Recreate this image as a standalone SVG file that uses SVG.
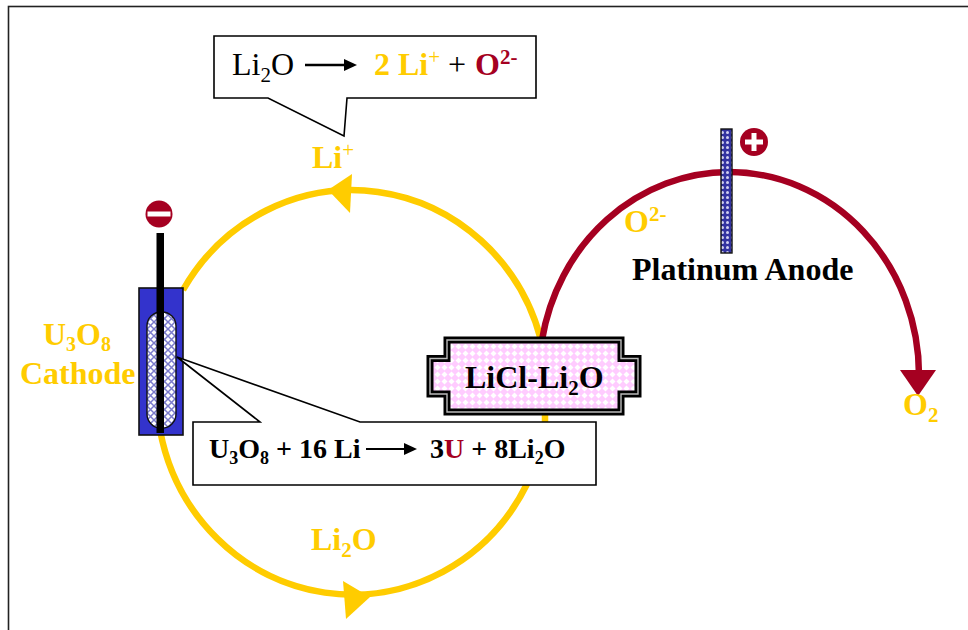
<svg xmlns="http://www.w3.org/2000/svg" width="968" height="630" viewBox="0 0 968 630">
<style>
text{font-family:"Liberation Serif","Times New Roman",serif;font-weight:bold}
.y{fill:#ffcc00}.r{fill:#a50021}.k{fill:#000}
.n{font-weight:normal}
.call{fill:#fff;stroke:#000;stroke-width:1.6;stroke-linejoin:miter}
.yl{fill:none;stroke:#ffcc00;stroke-width:6.5}
.rl{fill:none;stroke:#a50021;stroke-width:6.5}
</style>
<defs>
<pattern id="pk" width="7" height="7" patternUnits="userSpaceOnUse"><rect width="7" height="7" fill="#ffccff"/><path d="M3.500 .5l3 3-3 3-3-3z" fill="#fff"/></pattern>
<pattern id="ch" width="7" height="7" patternUnits="userSpaceOnUse"><rect width="7" height="7" fill="#fff"/><path d="M0 0L7 7M7 0L0 7" stroke="#7a7acc" stroke-width="1.5"/></pattern>
<pattern id="an" width="5" height="5" patternUnits="userSpaceOnUse"><rect width="5" height="5" fill="#3333a0"/><circle cx="2.500" cy="2.500" r="1.500" fill="#d0d0f0"/></pattern>
</defs>
<rect id="frame" x="8.500" y="6.500" width="980" height="650" fill="#fff" stroke="#222" stroke-width="1.6"/>
<g id="connectors">
<path class="yl" d="M541 340A196 203 0 0 0 183 290"/>
<path class="yl" d="M160 430A196 203 0 0 0 527 484"/>
<path class="yl" d="M545 412V424"/>
<path class="rl" d="M542 340A190 203 0 0 1 729 172A190 203 0 0 1 919 375"/>
<path fill="#a50021" d="M900 370H936L918 396z"/>
<path fill="#ffcc00" d="M328 190L352 174L350 213z"/>
<path fill="#ffcc00" d="M370 597L343 581L346 619z"/>
</g>
<g id="top-callout">
<path class="call" d="M214 36H536V98H347L344 136L268 98H214z"/>
<text x="232" y="75" font-size="32" class="n k">Li<tspan font-size="21" dy="7">2</tspan><tspan dy="-7">O</tspan></text>
<path d="M305 65H345" stroke="#000" stroke-width="2.400"/><path d="M344 59L357 65L344 71z" fill="#000"/>
<text x="374" y="75" font-size="32" class="y">2 Li<tspan font-size="21" dy="-11" class="n">+</tspan></text>
<text x="448" y="75" font-size="32" class="n k">+</text>
<text x="475" y="75" font-size="32" class="r">O<tspan font-size="21" dy="-11">2-</tspan></text>
</g>
<g id="li-plus"><text x="312" y="168" font-size="32" class="y">Li<tspan font-size="21" dy="-11" class="n">+</tspan></text></g>
<g id="li2o-label"><text x="311" y="550" font-size="32" class="y">Li<tspan font-size="21" dy="7">2</tspan><tspan dy="-7">O</tspan></text></g>
<g id="cathode">
<circle cx="159" cy="214" r="13.500" fill="#a50021"/><rect x="147.500" y="211.500" width="23" height="5" fill="#fff"/>
<rect x="139" y="288" width="44" height="147" fill="#3333cc" stroke="#111" stroke-width="1.600"/>
<rect x="147" y="312" width="29" height="116" rx="14" fill="url(#ch)" stroke="#111" stroke-width="1.400"/>
<rect x="156.500" y="233" width="7.500" height="200" fill="#000"/>
</g>
<g id="cathode-label">
<text x="43" y="344.500" font-size="32" class="y">U<tspan font-size="20" dy="6">3</tspan><tspan dy="-6">O</tspan><tspan font-size="20" dy="6">8</tspan></text>
<text x="20" y="383.500" font-size="32" class="y">Cathode</text>
</g>
<g id="bottom-callout">
<path class="call" d="M193 422H260L177 357L360 422H596V485H193z"/>
<text x="209" y="458" font-size="28" class="k">U<tspan font-size="18" dy="6">3</tspan><tspan dy="-6">O</tspan><tspan font-size="18" dy="6">8</tspan><tspan dy="-6"> + 16 Li</tspan></text>
<path d="M366 449H405" stroke="#000" stroke-width="2"/><path d="M404 443L417 449L404 455z" fill="#000"/>
<text x="430" y="458" font-size="28" class="k">3<tspan class="r">U</tspan> + 8Li<tspan font-size="18" dy="6">2</tspan><tspan dy="-6">O</tspan></text>
</g>
<g id="licl">
<path d="M447 340H621V358.500H638V394H621V412H447V394H430V358.500H447z" fill="url(#pk)" stroke="#000" stroke-width="7"/>
<path d="M447 340H621V358.500H638V394H621V412H447V394H430V358.500H447z" fill="none" stroke="#bbb" stroke-width="1.400"/>
<text x="465" y="388" font-size="32" class="k">LiCl-Li<tspan font-size="21" dy="7">2</tspan><tspan dy="-7">O</tspan></text>
</g>
<g id="anode">
<rect x="721" y="129" width="11" height="124" fill="url(#an)" stroke="#111" stroke-width="1.400"/>
<circle cx="754" cy="142" r="14" fill="#a50021"/><path d="M751.500 133h5v6.500h6.500v5h-6.500v6.500h-5v-6.500h-6.500v-5h6.500z" fill="#fff"/>
<text x="632" y="280" font-size="32" class="k">Platinum Anode</text>
</g>
<g id="o2minus"><text x="624" y="232" font-size="32" class="y">O<tspan font-size="21" dy="-11">2-</tspan></text></g>
<g id="o2"><text x="903" y="415" font-size="32" class="y">O<tspan font-size="21" dy="7">2</tspan></text></g>
</svg>
